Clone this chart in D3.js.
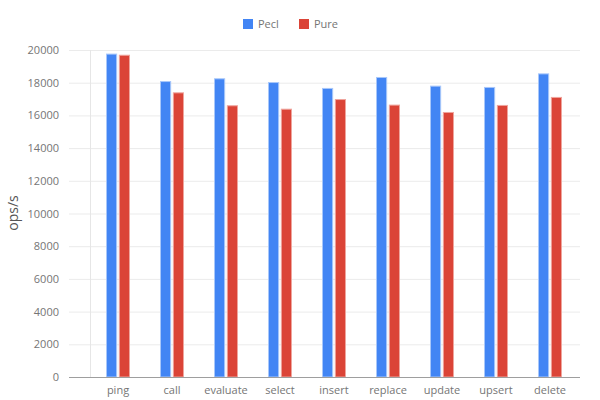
<!DOCTYPE html>
<html><head><meta charset="utf-8">
<script src="https://cdn.jsdelivr.net/npm/d3@7"></script>
<style>body{margin:0;background:#fff}svg{display:block;font-family:"Open Sans",sans-serif}</style>
</head><body><svg id="c" width="600" height="400"></svg>
<script>
const categories = ["ping","call","evaluate","select","insert","replace","update","upsert","delete"];
const seriesNames = ["Pecl","Pure"];
const pecl = [19780,18100,18270,18040,17680,18350,17820,17740,18570];
const pure = [19710,17410,16620,16410,17000,16660,16210,16640,17130];
const yTicks = [0,2000,4000,6000,8000,10000,12000,14000,16000,18000,20000];
const colors = ["#4285F4","#DB4437"];
const strokes = ["#a8c7fa","#efa59d"];

(function(){
const svg = d3.select("#c");
const pLeft = 69, pRight = 580, pTop = 50, pBottom = 377;
const y = d3.scaleLinear().domain([0,20000]).range([pBottom, pTop]);
const x = d3.scaleBand().domain(categories).range([91, 577]).padding(0);
const xs = d3.scaleBand().domain(seriesNames).range([0, 24]).paddingInner(0.13);

svg.append("g").selectAll("line").data(yTicks.filter(d=>d>0)).join("line")
  .attr("x1", pLeft).attr("x2", pRight).attr("y1", d=>y(d)+0.5).attr("y2", d=>y(d)+0.5)
  .attr("stroke", "#ebebeb");
svg.append("line").attr("x1",90.5).attr("x2",90.5).attr("y1",pTop).attr("y2",pBottom)
  .attr("stroke","#e6e6e6");

const yAxis = d3.axisLeft(y).tickValues(yTicks).tickSize(0).tickPadding(0).tickFormat(d3.format("d"));
const gy = svg.append("g").attr("transform", `translate(59,0)`).call(yAxis);
gy.select(".domain").remove();
gy.selectAll("text").attr("fill","#757575").style("font-size","11px").style("font-family","'Open Sans',sans-serif");

const data = [pecl, pure];
data.forEach((vals, si) => {
  svg.append("g").selectAll("rect").data(vals).join("rect")
    .attr("x", (d,i) => x(categories[i]) + x.bandwidth()/2 - 12 + xs(seriesNames[si]) + 0.5)
    .attr("y", d => y(d) + 0.5)
    .attr("width", xs.bandwidth() - 1)
    .attr("height", d => pBottom - y(d) - 0.5)
    .attr("fill", colors[si])
    .attr("stroke", strokes[si]).attr("stroke-width", 1);
});

svg.append("line").attr("x1",pLeft).attr("x2",pRight).attr("y1",pBottom+0.5).attr("y2",pBottom+0.5)
  .attr("stroke","#9e9e9e").attr("stroke-width",1.2);

const xAxis = d3.axisBottom(x).tickSize(0).tickPadding(0);
const gx = svg.append("g").attr("transform", `translate(0,${pBottom+9})`).call(xAxis);
gx.select(".domain").remove();
gx.selectAll("text").attr("fill","#757575").style("font-size","11px").style("font-family","'Open Sans',sans-serif");

svg.append("text").attr("transform","translate(18,213) rotate(-90)").attr("text-anchor","middle")
  .attr("fill","#555").style("font-size","14px").text("ops/s");

const lg = svg.append("g");
const lx = [243, 299];
seriesNames.forEach((n,i) => {
  lg.append("rect").attr("x", lx[i]).attr("y", 19).attr("width", 10).attr("height", 10).attr("fill", colors[i]);
  lg.append("text").attr("x", lx[i]+15).attr("y", 28).attr("fill","#757575").style("font-size","11px").text(n);
});
})();
</script></body></html>
